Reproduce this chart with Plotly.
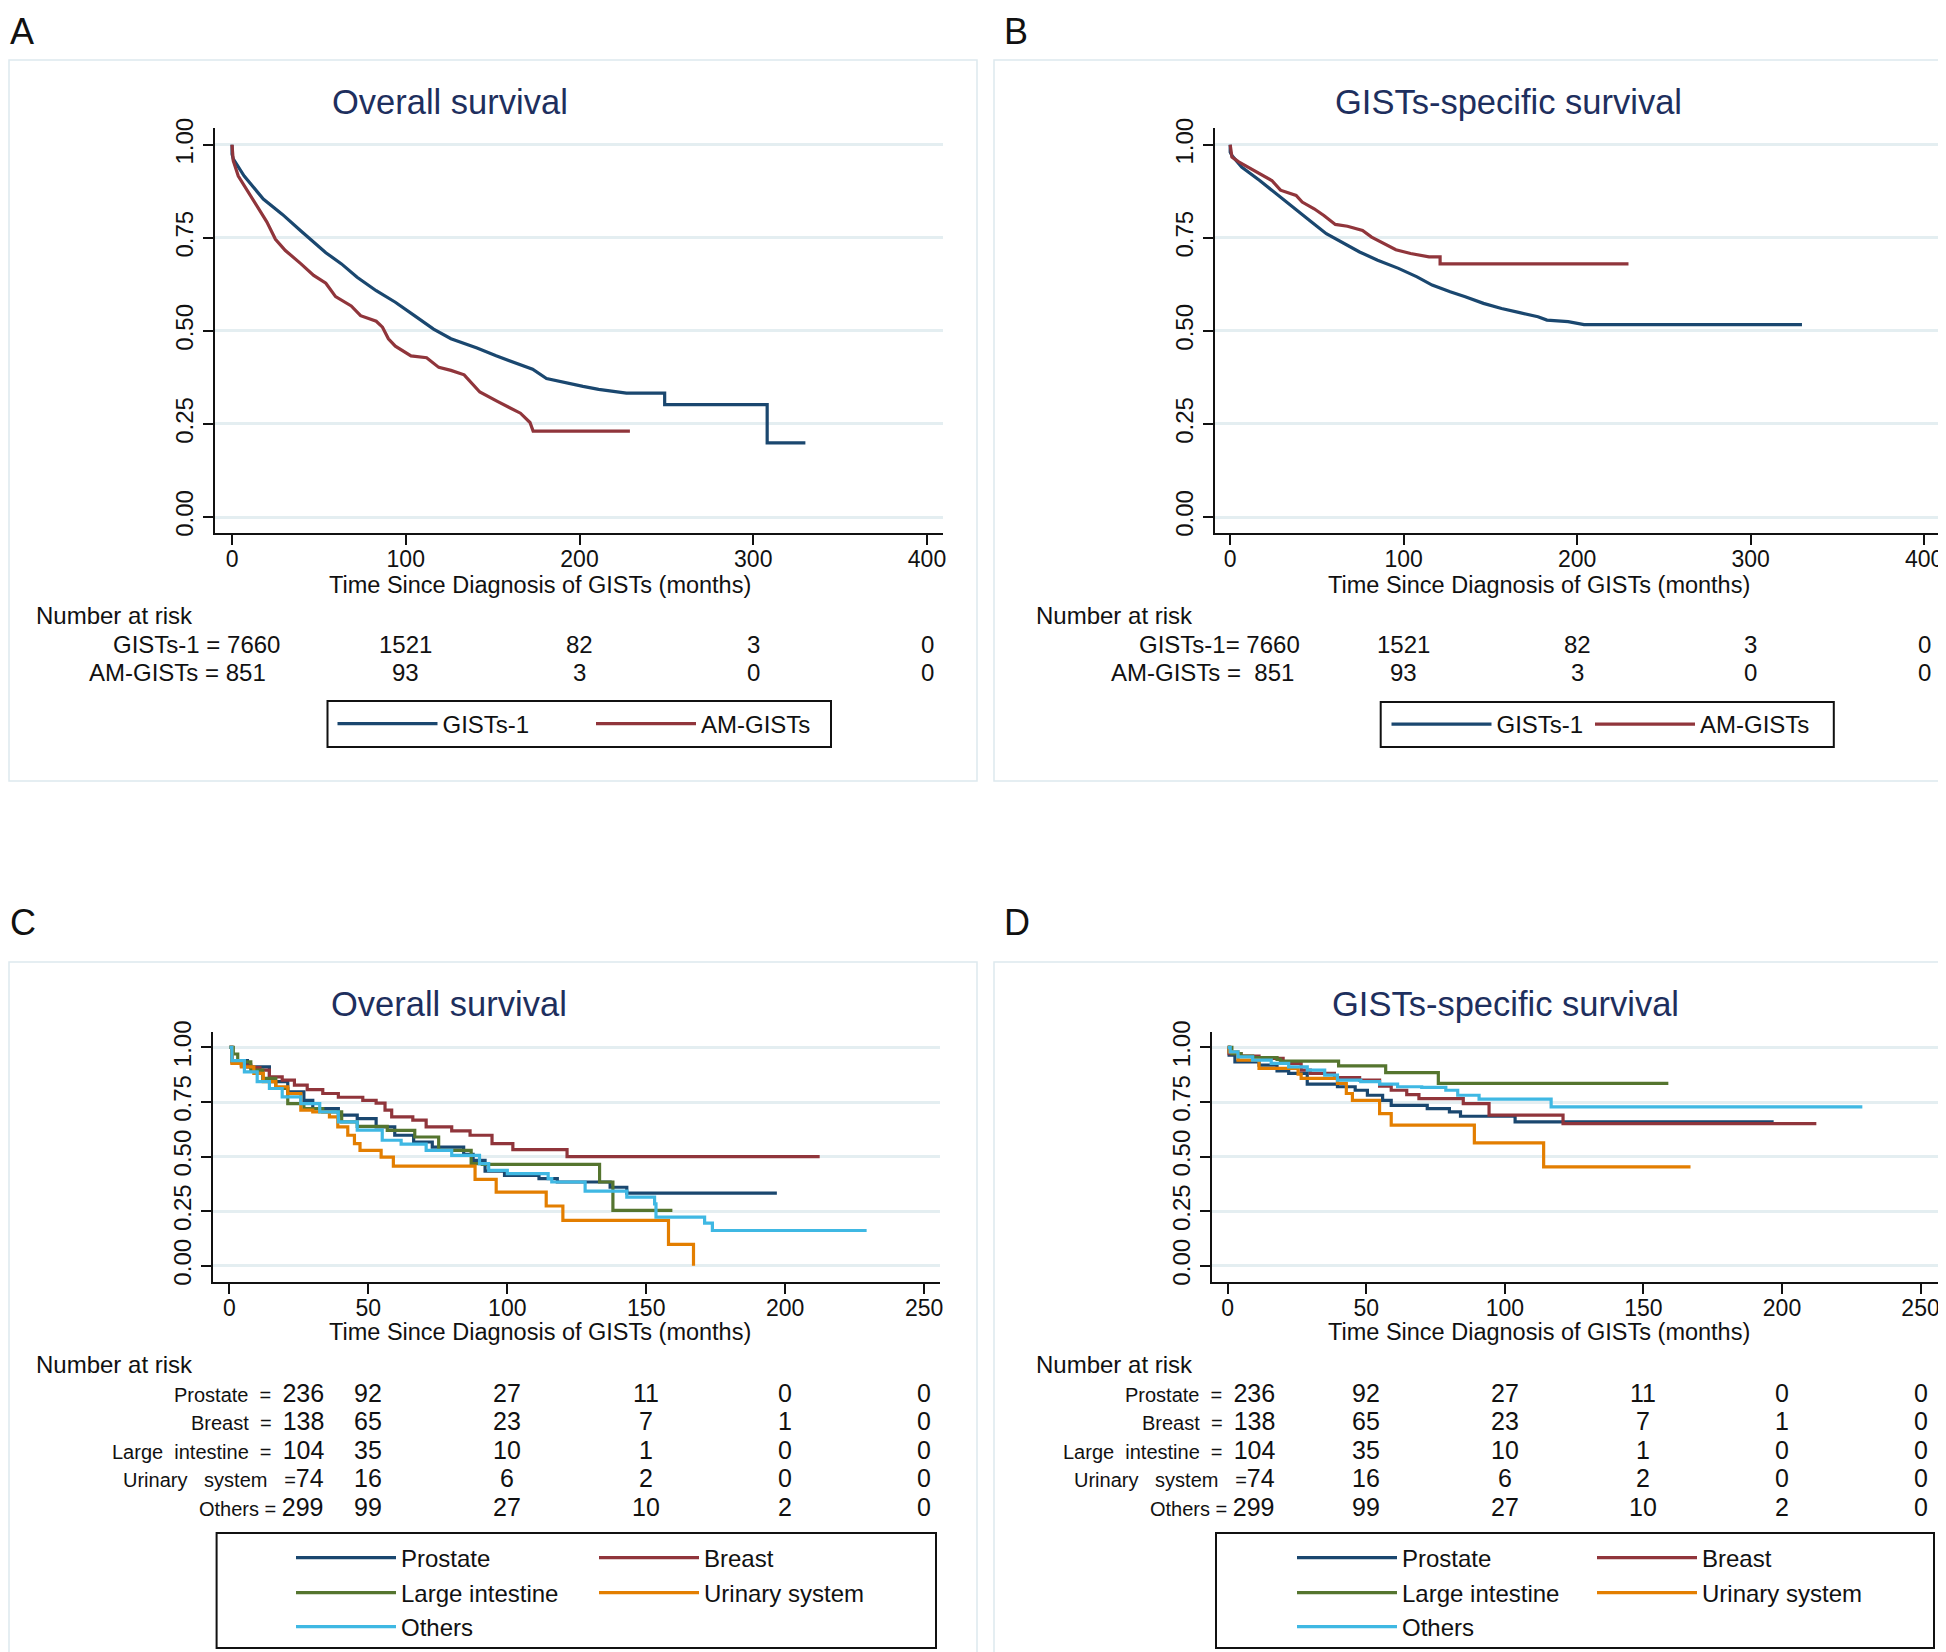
import plotly.graph_objects as go

W, H = 1946, 1652
OFF = 8  # page offset of the figure (default body margin)
FONT = "Liberation Sans, Arial, sans-serif"

NAVY = "#1a476f"
MAROON = "#90353b"
GREEN = "#55752f"
ORANGE = "#e37e00"
SKY = "#3fb8e3"
TITLE_C = "#1e2f5e"
GRID_C = "#e4eef1"

# ---------------- data ----------------
# Panel A: overall survival (dense Kaplan-Meier curves)
a_gists1_t = [0, 0, 0.7, 7, 18, 29, 40, 54, 63, 72, 83, 94, 105, 116, 126, 141, 152, 161, 173, 181, 191, 202, 211, 227, 249, 249, 308, 308, 330]
a_gists1_s = [1.0, 0.975, 0.962, 0.916, 0.854, 0.813, 0.767, 0.71, 0.68, 0.644, 0.608, 0.577, 0.541, 0.505, 0.479, 0.454, 0.433, 0.418, 0.397, 0.372, 0.361, 0.351, 0.343, 0.333, 0.333, 0.302, 0.302, 0.199, 0.199]
a_am_t = [0, 0.7, 3.6, 9, 14.4, 20, 25, 30.7, 39.7, 47, 54, 59.6, 68.6, 74, 83, 86.6, 90, 94, 103, 112, 119, 126, 133.6, 139, 142.6, 153, 157, 166, 171.5, 173.3, 229]
a_am_s = [1.0, 0.957, 0.916, 0.875, 0.834, 0.793, 0.746, 0.716, 0.68, 0.649, 0.628, 0.592, 0.567, 0.541, 0.526, 0.51, 0.479, 0.459, 0.433, 0.428, 0.402, 0.394, 0.382, 0.356, 0.336, 0.31, 0.30, 0.279, 0.254, 0.231, 0.231]

# Panel B: GISTs-specific survival
b_gists1_t = [0, 0, 1, 6.6, 17, 27.5, 38, 46.7, 55.4, 65.9, 74.6, 85, 97, 107.7, 116.4, 126.8, 135.5, 146, 156.4, 166.9, 177.4, 182.6, 194.8, 204, 329.6]
b_gists1_s = [1.0, 0.98, 0.971, 0.94, 0.904, 0.864, 0.824, 0.793, 0.761, 0.735, 0.712, 0.69, 0.668, 0.645, 0.623, 0.605, 0.592, 0.574, 0.56, 0.549, 0.538, 0.529, 0.525, 0.517, 0.517]
b_am_t = [0, 1, 4.9, 10, 17, 24, 29, 38, 41.5, 48.4, 54, 60.6, 67.6, 76.3, 81.5, 88.5, 95.5, 104, 114.6, 121, 121, 229.6]
b_am_s = [1.0, 0.967, 0.954, 0.94, 0.922, 0.904, 0.878, 0.864, 0.846, 0.828, 0.81, 0.786, 0.781, 0.77, 0.752, 0.735, 0.718, 0.708, 0.699, 0.699, 0.68, 0.68]

# Panel C: overall survival by site
c_prostate_t = [0, 0.9, 6.5, 14.4, 21, 26.8, 30, 39.2, 46, 52.8, 59.5, 66.3, 73, 84.3, 87.7, 92, 99, 111.4, 118, 137, 143, 197]
c_prostate_s = [1.0, 0.94, 0.911, 0.843, 0.797, 0.758, 0.72, 0.69, 0.674, 0.636, 0.598, 0.567, 0.544, 0.511, 0.483, 0.434, 0.414, 0.399, 0.384, 0.36, 0.333, 0.333]
c_breast_t = [0, 0.9, 4.3, 7.7, 11, 14.4, 19, 23.4, 28, 33.6, 39.2, 48, 52.8, 56, 58.4, 66, 70.8, 80, 86.6, 94.5, 102, 121.5, 212.4]
c_breast_s = [1.0, 0.934, 0.919, 0.908, 0.896, 0.865, 0.85, 0.827, 0.807, 0.789, 0.772, 0.758, 0.745, 0.713, 0.682, 0.667, 0.636, 0.618, 0.598, 0.56, 0.532, 0.50, 0.50]
c_large_t = [0, 1.4, 3, 7.7, 12, 16.7, 21, 26.8, 33.6, 40.4, 46, 56.8, 66.7, 75.3, 87, 91, 133.2, 138, 159.4]
c_large_s = [1.0, 0.97, 0.934, 0.896, 0.858, 0.812, 0.743, 0.72, 0.705, 0.659, 0.639, 0.62, 0.59, 0.529, 0.468, 0.465, 0.384, 0.254, 0.254]
c_urinary_t = [0, 0.9, 4.3, 8.8, 12.2, 16.7, 21, 25.7, 30, 36, 39, 42.6, 45, 47, 54.6, 59, 88.4, 96, 114, 120, 158, 167]
c_urinary_s = [1.0, 0.927, 0.911, 0.881, 0.843, 0.82, 0.789, 0.713, 0.705, 0.682, 0.636, 0.598, 0.56, 0.529, 0.498, 0.457, 0.396, 0.338, 0.274, 0.208, 0.098, 0.0]
c_others_t = [0, 0.9, 5.4, 10, 14.4, 19, 25.7, 32.5, 39.2, 46, 55, 61.8, 70.8, 80, 90, 93.3, 100, 114.7, 116, 128, 143, 153, 153.5, 171, 173.8, 229.3]
c_others_s = [1.0, 0.94, 0.888, 0.843, 0.812, 0.774, 0.743, 0.705, 0.659, 0.621, 0.575, 0.557, 0.529, 0.506, 0.468, 0.437, 0.422, 0.399, 0.384, 0.342, 0.315, 0.284, 0.223, 0.196, 0.162, 0.162]

# Panel D: GISTs-specific survival by site
d_prostate_t = [0, 0.5, 2.6, 11.3, 17.8, 22, 28.7, 39.6, 46, 50.4, 55.9, 59, 72, 80, 84, 103.7, 197]
d_prostate_s = [1.0, 0.965, 0.934, 0.919, 0.893, 0.881, 0.832, 0.82, 0.804, 0.781, 0.758, 0.735, 0.72, 0.705, 0.685, 0.659, 0.659]
d_breast_t = [0, 0.5, 4.8, 11.3, 20, 26.5, 29.8, 38.5, 47.6, 54.8, 59, 64.6, 69, 85, 94.3, 121, 212.4]
d_breast_s = [1.0, 0.972, 0.96, 0.95, 0.927, 0.896, 0.881, 0.862, 0.85, 0.823, 0.804, 0.784, 0.766, 0.743, 0.69, 0.651, 0.651]
d_large_t = [0, 1.5, 4.8, 9, 17.8, 19, 40, 57, 76, 159]
d_large_s = [1.0, 0.972, 0.96, 0.954, 0.945, 0.937, 0.916, 0.885, 0.835, 0.835]
d_urinary_t = [0, 0.5, 3.7, 11.3, 25.4, 26.5, 39.6, 42.8, 45, 54.8, 59, 89, 114, 167]
d_urinary_s = [1.0, 0.98, 0.942, 0.904, 0.878, 0.858, 0.835, 0.789, 0.758, 0.697, 0.644, 0.563, 0.453, 0.453]
d_others_t = [0, 0.9, 3.7, 9, 15.7, 22, 28.7, 35, 39.6, 48, 54.8, 61.3, 70, 78.7, 83, 90.7, 116.7, 229]
d_others_s = [1.0, 0.98, 0.957, 0.942, 0.927, 0.911, 0.896, 0.873, 0.85, 0.843, 0.832, 0.82, 0.817, 0.804, 0.781, 0.763, 0.728, 0.728]

# Number at risk tables
ab_ticks = [0, 100, 200, 300, 400]
ab_risk = [[7660, 1521, 82, 3, 0], [851, 93, 3, 0, 0]]
a_first = ["GISTs-1 = 7660", "AM-GISTs = 851"]
b_first = ["GISTs-1= 7660", "AM-GISTs =  851"]

cd_ticks = [0, 50, 100, 150, 200, 250]
cd_groups = ["Prostate", "Breast", "Large  intestine", "Urinary   system", "Others"]
cd_risk = [
    [236, 92, 27, 11, 0, 0],
    [138, 65, 23, 7, 1, 0],
    [104, 35, 10, 1, 0, 0],
    [74, 16, 6, 2, 0, 0],
    [299, 99, 27, 10, 2, 0],
]
y_ticks = [0, 0.25, 0.5, 0.75, 1.0]
y_ticklabels = ["0.00", "0.25", "0.50", "0.75", "1.00"]

# ---------------- helpers (page pixels -> paper) ----------------
def px_x(p):
    return (p - OFF) / W

def px_y(p):
    return 1 - (p - OFF) / H

fig = go.Figure()

def add_curve(t, s, name, color, ax, legend, shape):
    fig.add_trace(go.Scatter(
        x=t, y=s, mode="lines", name=name, line=dict(color=color, width=3.2, shape=shape),
        xaxis="x" + ax, yaxis="y" + ax, legend=legend, showlegend=True, hoverinfo="skip"))

add_curve(a_gists1_t, a_gists1_s, "GISTs-1", NAVY, "", "legend", "linear")
add_curve(a_am_t, a_am_s, "AM-GISTs", MAROON, "", "legend2", "linear")
add_curve(b_gists1_t, b_gists1_s, "GISTs-1", NAVY, "2", "legend3", "linear")
add_curve(b_am_t, b_am_s, "AM-GISTs", MAROON, "2", "legend4", "linear")

c_series = [(c_prostate_t, c_prostate_s, "Prostate", NAVY),
            (c_breast_t, c_breast_s, "Breast", MAROON),
            (c_large_t, c_large_s, "Large intestine", GREEN),
            (c_urinary_t, c_urinary_s, "Urinary system", ORANGE),
            (c_others_t, c_others_s, "Others", SKY)]
d_series = [(d_prostate_t, d_prostate_s, "Prostate", NAVY),
            (d_breast_t, d_breast_s, "Breast", MAROON),
            (d_large_t, d_large_s, "Large intestine", GREEN),
            (d_urinary_t, d_urinary_s, "Urinary system", ORANGE),
            (d_others_t, d_others_s, "Others", SKY)]
for i, (t, s, n, col) in enumerate(c_series):
    add_curve(t, s, n, col, "3", f"legend{5 + i}", "hv")
for i, (t, s, n, col) in enumerate(d_series):
    add_curve(t, s, n, col, "4", f"legend{10 + i}", "hv")

axis_common = dict(showline=True, linecolor="#111111", linewidth=2, ticks="outside",
                   ticklen=10, tickwidth=2, tickcolor="#111111", zeroline=False,
                   automargin=False, fixedrange=True)

def xax(domain, rng, ticks, anchor):
    return dict(domain=domain, range=rng, tickvals=ticks, showgrid=False, anchor=anchor,
                ticklabelstandoff=-5,
                tickfont=dict(family=FONT, size=23, color="#111111"), **axis_common)

def yax(domain, rng, anchor):
    return dict(domain=domain, range=rng, tickvals=y_ticks, ticktext=y_ticklabels, tickangle=-90,
                showgrid=True, gridcolor=GRID_C, gridwidth=2.5, anchor=anchor,
                tickfont=dict(family=FONT, size=24, color="#111111"), **axis_common)

ab_ydom = [px_y(532.7), px_y(128)]
cd_ydom = [px_y(1281.6), px_y(1031.7)]

fig.update_layout(
    template="none",
    width=W, height=H, margin=dict(l=0, r=0, t=0, b=0, autoexpand=False),
    paper_bgcolor="white", plot_bgcolor="white", showlegend=True,
    font=dict(family=FONT, size=24, color="#111111"),
    xaxis=xax([px_x(215), px_x(943)], [-9.8, 409.2], ab_ticks, "y"),
    yaxis=yax(ab_ydom, [-0.042, 1.045], "x"),
    xaxis2=xax([px_x(1214.5), px_x(1939)], [-9.05, 408.6], ab_ticks, "y2"),
    yaxis2=yax(ab_ydom, [-0.042, 1.045], "x2"),
    xaxis3=xax([px_x(213), px_x(940)], [-5.9, 255.7], cd_ticks, "y3"),
    yaxis3=yax(cd_ydom, [-0.072, 1.072], "x3"),
    xaxis4=xax([px_x(1212), px_x(1938)], [-5.67, 256.3], cd_ticks, "y4"),
    yaxis4=yax(cd_ydom, [-0.072, 1.072], "x4"),
)

# legends: one entry each, placed at the key-line start (page px) and row centre
def legend(line_start, ycen):
    return dict(x=px_x(line_start - 5), y=px_y(ycen), xanchor="left", yanchor="middle",
                orientation="v", bgcolor="rgba(0,0,0,0)", borderwidth=0, itemwidth=100,
                font=dict(family=FONT, size=24, color="#111111"),
                itemclick=False, itemdoubleclick=False)

leg_pos = {
    "legend": (337.5, 724), "legend2": (596, 724),
    "legend3": (1391.5, 724.5), "legend4": (1595, 724.5),
}
cd_cols = [(296, 599), (1297, 1597)]
cd_rows = [1558, 1593, 1627]
cd_slots = [(0, 0), (1, 0), (0, 1), (1, 1), (0, 2)]  # (column, row) for Prostate, Breast, Large, Urinary, Others
for p, base in enumerate((5, 10)):
    for i, (c, r) in enumerate(cd_slots):
        leg_pos[f"legend{base + i}"] = (cd_cols[p][c], cd_rows[r])
fig.update_layout(**{k: legend(*v) for k, v in leg_pos.items()})

shapes = []
def frame(x0, y0, x1, y1, color, width):
    shapes.append(dict(type="rect", xref="paper", yref="paper", x0=px_x(x0), x1=px_x(x1),
                       y0=px_y(y1), y1=px_y(y0), line=dict(color=color, width=width),
                       fillcolor="rgba(0,0,0,0)", layer="below"))

# panel frames
frame(9, 60, 977, 781, "#dde9ee", 1.5)
frame(994, 60, 1944, 781, "#dde9ee", 1.5)
frame(9, 962, 977, 1670, "#dde9ee", 1.5)
frame(994, 962, 1944, 1670, "#dde9ee", 1.5)
# legend boxes
frame(327.5, 701, 831, 747, "#111111", 2)
frame(1380.7, 702, 1833.8, 747, "#111111", 2)
frame(216.6, 1533, 936, 1648, "#111111", 2)
frame(1216, 1533, 1934, 1648, "#111111", 2)
fig.update_layout(shapes=shapes)

ann = []
def text(xpx, ypx, s, size=24, anchor="center", color="#111111", xref="paper", xval=None, yanchor="middle"):
    ann.append(dict(x=(xval if xval is not None else px_x(xpx)), y=px_y(ypx), xref=xref, yref="paper",
                    text=s, showarrow=False, xanchor=anchor, yanchor=yanchor,
                    font=dict(family=FONT, size=size, color=color)))

# panel letters
text(8, 9, "A", size=36, anchor="left", yanchor="top")
text(1002, 9, "B", size=36, anchor="left", yanchor="top")
text(8, 923, "C", size=36, anchor="left")
text(1002, 923, "D", size=36, anchor="left")

# titles
text(450, 102, "Overall survival", size=34.5, color=TITLE_C)
text(1508, 102, "GISTs-specific survival", size=34.5, color=TITLE_C)
text(449, 1004, "Overall survival", size=34.5, color=TITLE_C)
text(1505, 1004, "GISTs-specific survival", size=34.5, color=TITLE_C)

# x axis titles
xt = "Time Since Diagnosis of GISTs (months)"
for x, y in [(540, 585), (1539, 585), (540, 1332), (1539, 1332)]:
    text(x, y, xt, size=23.5)

# Number at risk
for xl in (34, 1034):
    text(xl, 615, "Number at risk", anchor="left")
    text(xl, 1364, "Number at risk", anchor="left")

rows_ab = [644, 672.5]
for ax, firsts, rights in (("", a_first, (282, 268)), ("2", b_first, (1302, 1296))):
    for r, vals in enumerate(ab_risk):
        text(rights[r], rows_ab[r], firsts[r], anchor="right")
        for tk, v in zip(ab_ticks[1:], vals[1:]):
            text(0, rows_ab[r], str(v), xref="x" + ax, xval=tk)

rows_cd = [1392.5, 1421, 1449.5, 1478, 1506.5]
for ax, xr in (("3", 326), ("4", 1277)):
    for r, (g, vals) in enumerate(zip(cd_groups, cd_risk)):
        sep = "  =  " if r < 3 else ("   =" if r == 3 else " = ")
        text(xr, rows_cd[r], f"<span style='font-size:20px'>{g}{sep}</span>{vals[0]}", size=25, anchor="right")
        for tk, v in zip(cd_ticks[1:], vals[1:]):
            text(0, rows_cd[r], str(v), size=25, xref="x" + ax, xval=tk)

fig.update_layout(annotations=ann)
fig.write_html("out.html")
